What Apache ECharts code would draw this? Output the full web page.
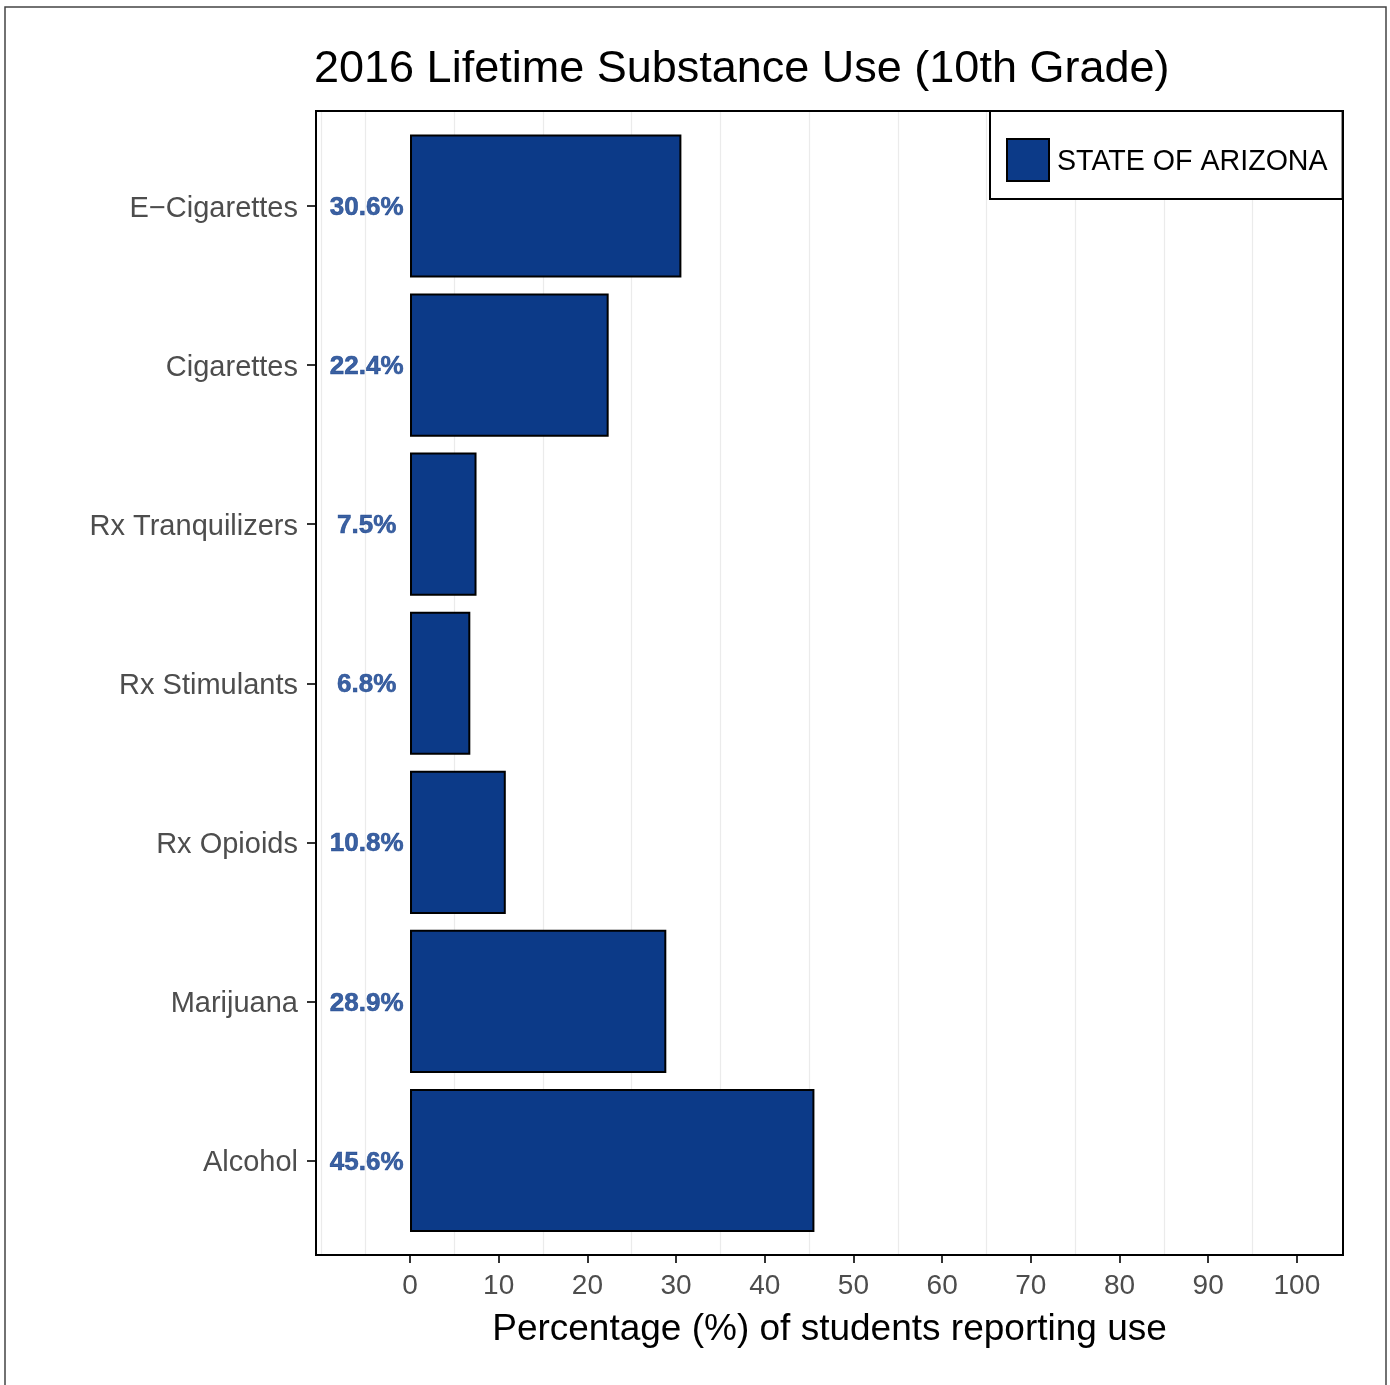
<!DOCTYPE html>
<html>
<head>
<meta charset="utf-8">
<script src="https://cdn.jsdelivr.net/npm/echarts@6/dist/echarts.min.js"></script>
<style>
  html, body { margin: 0; padding: 0; background: #fff; }
  #chart { width: 1390px; height: 1385px; }
</style>
</head>
<body>
<div id="chart"></div>
<script>
// Data
const substances = ['E\u2212Cigarettes', 'Cigarettes', 'Rx Tranquilizers', 'Rx Stimulants', 'Rx Opioids', 'Marijuana', 'Alcohol'];
const lifetimeUse = [30.6, 22.4, 7.5, 6.8, 10.8, 28.9, 45.6];
const xTicks = [0, 10, 20, 30, 40, 50, 60, 70, 80, 90, 100];
const xGridLines = [-10, -5, 5, 15, 25, 35, 45, 55, 65, 75, 85, 95];
const seriesName = 'STATE OF ARIZONA';
const labelPos = -5;

const FONT = '"Liberation Sans", Arial, Helvetica, sans-serif';
const BAR_BLUE = '#0c3a88';
const X_MIN = -10.6, X_MAX = 105.2;

const chart = echarts.init(document.getElementById('chart'));

const option = {
  animation: false,
  textStyle: { fontFamily: FONT },
  title: {
    text: '2016 Lifetime Substance Use (10th Grade)',
    left: 314,
    top: 47,
    padding: 0,
    textStyle: { fontFamily: FONT, fontSize: 45, fontWeight: 'normal', color: '#000' }
  },
  legend: {
    data: [seriesName],
    left: 990,
    top: 111,
    padding: [27, 15, 17, 16],
    backgroundColor: '#fff',
    borderColor: '#000',
    borderWidth: 2,
    itemWidth: 42,
    itemHeight: 42,
    icon: 'rect',
    itemStyle: { color: BAR_BLUE, borderColor: '#000', borderWidth: 2 },
    formatter: name => '{t|' + name + '}',
    textStyle: {
      rich: {
        t: { fontFamily: FONT, fontSize: 28.6, color: '#000', padding: [5, 0, 0, 3] }
      }
    },
    z: 10
  },
  graphic: [{
    type: 'rect',
    shape: { x: 5, y: 7, width: 1381, height: 1395 },
    style: { fill: 'none', stroke: '#444', lineWidth: 1.5 },
    silent: true,
    z: -10
  }],
  grid: [
    { left: 316, top: 111, width: 1027, height: 1144, show: true, borderColor: '#000', borderWidth: 2, backgroundColor: 'transparent', z: 5 },
    { left: 316, top: 126.5, width: 1027, height: 1113.5 }
  ],
  xAxis: [
    {
      gridIndex: 0,
      type: 'value',
      min: X_MIN,
      max: X_MAX,
      axisLine: { show: false },
      splitLine: { show: false },
      axisTick: { show: true, customValues: xTicks, length: 8, lineStyle: { color: '#333', width: 2 } },
      axisLabel: { customValues: xTicks, margin: 17, fontFamily: FONT, fontSize: 28, color: '#4d4d4d' },
      name: 'Percentage (%) of students reporting use',
      nameLocation: 'middle',
      nameGap: 56,
      nameTextStyle: { fontFamily: FONT, fontSize: 37, color: '#000' }
    },
    {
      gridIndex: 1,
      type: 'value',
      min: X_MIN,
      max: X_MAX,
      show: false
    }
  ],
  yAxis: [
    { gridIndex: 0, type: 'value', min: 0, max: 1, show: false },
    {
      gridIndex: 1,
      type: 'category',
      data: substances,
      inverse: true,
      axisLine: { show: false, onZero: false },
      axisTick: { show: true, alignWithLabel: true, length: 9, lineStyle: { color: '#333', width: 2 } },
      axisLabel: {
        margin: 18,
        formatter: v => '{c|' + v + '}',
        rich: {
          c: { fontFamily: FONT, fontSize: 29, color: '#4d4d4d', padding: [6, 0, 0, 0] }
        }
      },
      splitLine: { show: false }
    }
  ],
  series: [
    {
      type: 'scatter',
      xAxisIndex: 0,
      yAxisIndex: 0,
      data: [],
      silent: true,
      z: 1,
      markLine: {
        silent: true,
        z: 1,
        symbol: 'none',
        label: { show: false },
        lineStyle: { color: '#ebebeb', width: 1.2, type: 'solid' },
        data: xGridLines.map(v => ({ xAxis: v }))
      }
    },
    {
      name: seriesName,
      type: 'bar',
      xAxisIndex: 1,
      yAxisIndex: 1,
      data: lifetimeUse,
      barCategoryGap: '10%',
      itemStyle: { color: BAR_BLUE, borderColor: '#000', borderWidth: 2 },
      z: 3
    },
    {
      type: 'scatter',
      xAxisIndex: 1,
      yAxisIndex: 1,
      symbolSize: 0,
      silent: true,
      data: lifetimeUse.map((v, i) => [labelPos, i, v]),
      label: {
        show: true,
        position: 'inside',
        offset: [1, 2],
        formatter: p => p.value[2].toFixed(1) + '%',
        fontFamily: FONT,
        fontSize: 26,
        fontWeight: 'bold',
        color: '#0b3a8a',
        textBorderColor: '#0b3a8a',
        textBorderWidth: 0.6
      },
      z: 4
    }
  ]
};

chart.setOption(option);
window.addEventListener('resize', () => chart.resize());
</script>
</body>
</html>
